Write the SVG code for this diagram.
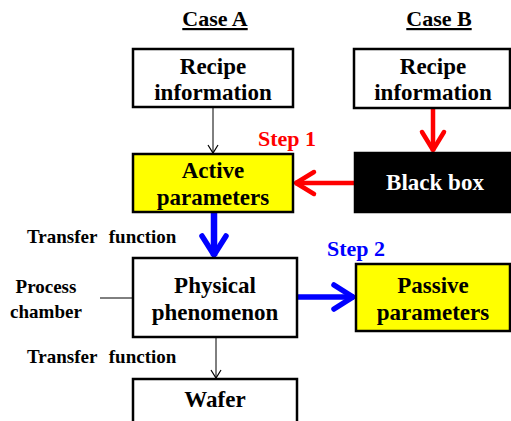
<svg xmlns="http://www.w3.org/2000/svg" width="511" height="421" viewBox="0 0 511 421">
  <style>
    text { font-family: "Liberation Serif", "Times New Roman", serif; font-weight: bold; }
    .box { fill: #ffffff; stroke: #000000; stroke-width: 2.5; }
    .yellow { fill: #ffff00; stroke: #000000; stroke-width: 2.5; }
    .black { fill: #000000; stroke: #000000; stroke-width: 2.5; }
    .lbl { font-size: 23px; text-anchor: middle; fill: #000000; }
    .side { font-size: 19px; fill: #000000; }
    .thin { stroke: #000000; stroke-width: 1; fill: none; }
    .red { stroke: #ff0000; stroke-width: 4.5; fill: none; }
    .blue { stroke: #0000ff; stroke-width: 5.5; fill: none; }
  </style>
  <defs>
    <marker id="headThin" markerUnits="userSpaceOnUse" viewBox="-12 -8 14 16" markerWidth="14" markerHeight="16" refX="0" refY="0" orient="auto">
      <path d="M -8 -5 L 0 0 L -8 5" fill="none" stroke="#000000" stroke-width="1.2"/>
    </marker>
    <marker id="headRed" markerUnits="userSpaceOnUse" viewBox="-26 -16 30 32" markerWidth="30" markerHeight="32" refX="0" refY="0" orient="auto">
      <path d="M -19 -11 L -1 0 L -19 11" fill="none" stroke="#ff0000" stroke-width="4.5" stroke-linecap="round" stroke-linejoin="round"/>
    </marker>
    <marker id="headBlue" markerUnits="userSpaceOnUse" viewBox="-26 -16 30 32" markerWidth="30" markerHeight="32" refX="0" refY="0" orient="auto">
      <path d="M -20 -12 L -1 0 L -20 12" fill="none" stroke="#0000ff" stroke-width="5.5" stroke-linecap="round" stroke-linejoin="round"/>
    </marker>
  </defs>

  <!-- column headings -->
  <text x="215" y="26" font-size="22" text-anchor="middle" text-decoration="underline">Case A</text>
  <text x="439" y="26" font-size="22" text-anchor="middle" text-decoration="underline">Case B</text>

  <!-- connectors -->
  <g id="connectors">
    <line class="thin" x1="213" y1="107" x2="213" y2="153" marker-end="url(#headThin)"/>
    <line class="red" x1="433" y1="108" x2="433" y2="151" marker-end="url(#headRed)"/>
    <line class="red" x1="355" y1="183" x2="295" y2="183" marker-end="url(#headRed)"/>
    <line class="blue" x1="214" y1="212" x2="214" y2="256" marker-end="url(#headBlue)" style="stroke-width:6.5"/>
    <line class="blue" x1="297" y1="297" x2="354" y2="297" marker-end="url(#headBlue)"/>
    <line class="thin" x1="100" y1="298" x2="133" y2="298"/>
    <line class="thin" x1="216" y1="337" x2="216" y2="378" marker-end="url(#headThin)"/>
  </g>

  <!-- connector labels -->
  <text x="258" y="146" font-size="22" fill="#ff0000">Step 1</text>
  <text x="327" y="256" font-size="22" fill="#0000ff">Step 2</text>
  <text class="side" x="27" y="243" word-spacing="7">Transfer function</text>
  <text class="side" x="27" y="363" word-spacing="7">Transfer function</text>
  <text class="side" x="46" y="293" text-anchor="middle">Process</text>
  <text class="side" x="46" y="318" text-anchor="middle">chamber</text>

  <g id="recipeA">
    <rect class="box" x="133" y="49" width="160" height="58"/>
    <text class="lbl" x="213" y="74">Recipe</text>
    <text class="lbl" x="213" y="100">information</text>
  </g>

  <g id="recipeB">
    <rect class="box" x="354" y="49" width="156" height="59"/>
    <text class="lbl" x="433" y="74">Recipe</text>
    <text class="lbl" x="433" y="100">information</text>
  </g>

  <g id="activeParameters">
    <rect class="yellow" x="133" y="154" width="160" height="58"/>
    <text class="lbl" x="213" y="178">Active</text>
    <text class="lbl" x="213" y="205">parameters</text>
  </g>

  <g id="blackBox">
    <rect class="black" x="355" y="153" width="156" height="59"/>
    <text class="lbl" x="435" y="190" style="fill:#ffffff">Black box</text>
  </g>

  <g id="physicalPhenomenon">
    <rect class="box" x="133" y="258" width="164" height="79"/>
    <text class="lbl" x="215" y="293">Physical</text>
    <text class="lbl" x="215" y="320">phenomenon</text>
  </g>

  <g id="passiveParameters">
    <rect class="yellow" x="356" y="264" width="154" height="67"/>
    <text class="lbl" x="433" y="293">Passive</text>
    <text class="lbl" x="433" y="320">parameters</text>
  </g>

  <g id="wafer">
    <rect class="box" x="133" y="379" width="164" height="50"/>
    <text class="lbl" x="215" y="407">Wafer</text>
  </g>
</svg>
